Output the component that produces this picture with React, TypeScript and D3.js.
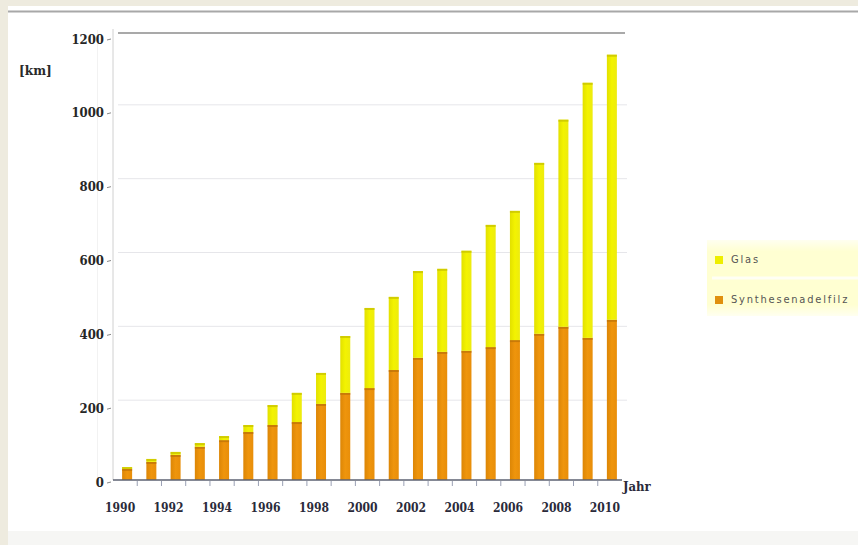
import React from "react";
import * as d3 from "d3";

// Jährliche Länge in km, gestapelt: Synthesenadelfilz unten, Glas oben
const years = [
  1990, 1991, 1992, 1993, 1994, 1995, 1996, 1997, 1998, 1999, 2000,
  2001, 2002, 2003, 2004, 2005, 2006, 2007, 2008, 2009, 2010,
];
const synthValues = [
  30, 49, 68, 90, 108, 130, 149, 157, 206, 236, 249,
  298, 331, 347, 350, 360, 379, 396, 415, 385, 434,
];
const glasValues = [
  5, 8, 8, 10, 11, 19, 54, 79, 84, 154, 217,
  198, 235, 225, 271, 331, 350, 463, 561, 691, 718,
];
const yTicks = [0, 200, 400, 600, 800, 1000, 1200];
const xLabelYears = [1990, 1992, 1994, 1996, 1998, 2000, 2002, 2004, 2006, 2008, 2010];
const seriesNames = ["Glas", "Synthesenadelfilz"];

const W = 858;
const H = 545;
const left = 113;
const right = 622;
const baseY = 480;
const topY = 37;
const depth = 6; // versatz der rückwand (3D-optik)

const numFont = "'DejaVu Serif Condensed', 'DejaVu Serif', serif";
const sansFont = "'DejaVu Sans Condensed', 'DejaVu Sans', sans-serif";

export default function App() {
  const x = d3
    .scaleBand<number>()
    .domain(years)
    .range([left, right])
    .padding(0);
  const y = d3.scaleLinear().domain([0, 1200]).range([baseY, topY]);

  const rows = years.map((yr, i) => ({
    year: yr,
    synth: synthValues[i],
    glas: glasValues[i],
  }));
  const stack = d3.stack<any>().keys(["synth", "glas"]);
  const layers = stack(rows);

  const bw = x.bandwidth();
  const barW = 10;
  const barX = (yr: number) => (x(yr) as number) + bw / 2 + 2 - barW / 2;

  const fills: Record<string, string> = {
    synth: "url(#gOrange)",
    glas: "url(#gYellow)",
  };
  const caps: Record<string, string> = {
    synth: "#C07408",
    glas: "#C9C400",
  };

  return (
    <svg
      width={W}
      height={H}
      style={{ position: "absolute", left: 0, top: 0, display: "block" }}
    >
      <defs>
        <linearGradient id="gYellow" x1="0" x2="1" y1="0" y2="0">
          <stop offset="0" stopColor="#E2E000" />
          <stop offset="0.5" stopColor="#F3F300" />
          <stop offset="1" stopColor="#EDEB10" />
        </linearGradient>
        <linearGradient id="gOrange" x1="0" x2="1" y1="0" y2="0">
          <stop offset="0" stopColor="#DC8606" />
          <stop offset="0.5" stopColor="#EF950C" />
          <stop offset="1" stopColor="#E88E0A" />
        </linearGradient>
        <linearGradient id="gLegend" x1="0" x2="0" y1="0" y2="1">
          <stop offset="0" stopColor="#FFFFF0" />
          <stop offset="0.15" stopColor="#FFFFD2" />
          <stop offset="0.85" stopColor="#FFFFD2" />
          <stop offset="1" stopColor="#FFFFF0" />
        </linearGradient>
      </defs>

      {/* hintergrund */}
      <rect x={0} y={0} width={W} height={H} fill="#EEEBDF" />
      <rect x={8} y={6} width={W - 8} height={H - 6} fill="#FFFFFF" />
      <rect x={8} y={531} width={W - 8} height={H - 531} fill="#F6F6F4" />
      <line x1={8} x2={W} y1={11.5} y2={11.5} stroke="#A8A8A8" strokeWidth={2} />

      {/* gitterlinien an der rückwand */}
      {yTicks.map((t) =>
        t === 1200 ? (
          <line
            key={t}
            x1={left + 5}
            x2={right + 3}
            y1={y(t) - depth + 2}
            y2={y(t) - depth + 2}
            stroke="#8C8C8C"
            strokeWidth={1.6}
          />
        ) : t === 0 ? null : (
          <line
            key={t}
            x1={left + 5}
            x2={right + 5}
            y1={y(t) - depth}
            y2={y(t) - depth}
            stroke="#E6E6EA"
            strokeWidth={1}
          />
        )
      )}

      {/* y-achse */}
      <line x1={97.5} x2={97.5} y1={30} y2={baseY} stroke="#F2F2F2" />
      <line x1={left} x2={left} y1={topY - 8} y2={baseY} stroke="#D0D0D0" />
      {yTicks.map((t) => (
        <g key={t}>
          <line
            x1={left - 6}
            x2={left - 2}
            y1={y(t) + 3}
            y2={y(t) + 2}
            stroke="#888"
          />
          <text
            x={left - 9}
            y={y(t) + 3}
            textAnchor="end"
            dominantBaseline="middle"
            fontFamily={numFont}
            fontWeight="bold"
            fontSize={13}
            fill="#262626"
          >
            {t}
          </text>
        </g>
      ))}
      <text
        x={19}
        y={71}
        dominantBaseline="middle"
        fontFamily={numFont}
        fontWeight="bold"
        fontSize={13.5}
        fill="#2A2A2A"
      >
        [km]
      </text>

      {/* balken */}
      {layers.map((layer) =>
        layer.map((d: any) => {
          const yr = d.data.year;
          const y0 = y(d[0]);
          const y1 = y(d[1]);
          return (
            <g key={layer.key + yr}>
              <rect
                x={barX(yr)}
                y={y1}
                width={barW}
                height={Math.max(0, y0 - y1)}
                fill={fills[layer.key]}
              />
              <rect
                x={barX(yr)}
                y={y1}
                width={barW}
                height={2}
                fill={caps[layer.key]}
                opacity={0.8}
              />
            </g>
          );
        })
      )}

      {/* x-achse */}
      <line x1={left} x2={right} y1={baseY} y2={baseY} stroke="#5C6272" strokeWidth={1.6} />
      {years.slice(1).map((yr) => (
        <line
          key={yr}
          x1={x(yr) as number}
          x2={x(yr) as number}
          y1={baseY + 1}
          y2={baseY + 6}
          stroke="#9AA0B4"
        />
      ))}
      {xLabelYears.map((yr) => (
        <text
          key={yr}
          x={(x(yr) as number) + bw / 2 - 5}
          y={508}
          textAnchor="middle"
          dominantBaseline="middle"
          fontFamily={numFont}
          fontWeight="bold"
          fontSize={12}
          fill="#2A2A3A"
        >
          {yr}
        </text>
      ))}
      <text
        x={right + 1}
        y={487}
        dominantBaseline="middle"
        fontFamily={numFont}
        fontWeight="bold"
        fontSize={13}
        fill="#2A2A3A"
      >
        Jahr
      </text>

      {/* legende */}
      <rect x={707} y={240} width={W - 707} height={76} fill="url(#gLegend)" />
      <line x1={712} x2={W} y1={278} y2={278} stroke="#FFFFF4" strokeWidth={3} />
      <rect x={715} y={256} width={8} height={8} fill="#EEEE00" />
      <text
        x={731}
        y={260}
        dominantBaseline="middle"
        fontFamily={sansFont}
        fontSize={11}
        letterSpacing={1.8}
        fill="#555"
      >
        {seriesNames[0]}
      </text>
      <rect x={715} y={296} width={8} height={8} fill="#E0900E" />
      <text
        x={731}
        y={300}
        dominantBaseline="middle"
        fontFamily={sansFont}
        fontSize={11}
        letterSpacing={1.8}
        fill="#555"
      >
        {seriesNames[1]}
      </text>
    </svg>
  );
}
